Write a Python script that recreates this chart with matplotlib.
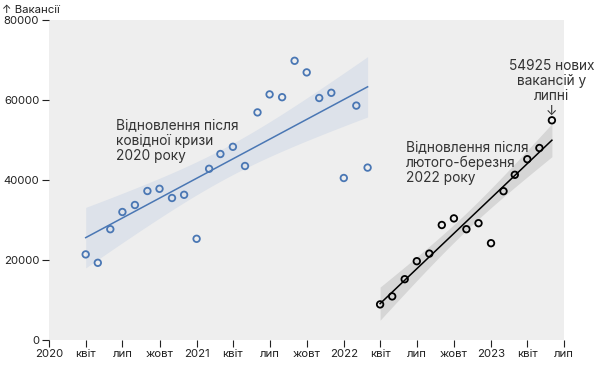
import numpy as np
import pandas as pd
import matplotlib
matplotlib.use("Agg")
import matplotlib.pyplot as plt
import matplotlib.dates as mdates

plt.rcParams['font.family'] = ['Inter', 'DejaVu Sans']

# Monthly vacancies, recovery after COVID crisis 2020 (Apr 2020 - Mar 2022)
covid_dates = pd.date_range("2020-04-01", "2022-03-01", freq="MS")
covid_values = [21400, 19300, 27700, 32000, 33750, 37250, 37800, 35500, 36300,
                25300, 42800, 46500, 48300, 43500, 56900, 61400, 60700, 69800,
                66900, 60500, 61800, 40500, 58600, 43100]

# Recovery after Feb-Mar 2022 (Apr 2022 - Jun 2023)
war_dates = pd.date_range("2022-04-01", "2023-06-01", freq="MS")
war_values = [8900, 10900, 15200, 19700, 21600, 28750, 30400, 27700, 29200,
              24200, 37200, 41300, 45200, 48000, 54925]

tick_dates = pd.date_range("2020-01-01", "2023-07-01", freq="QS")
month_names = {1: None, 4: "квіт", 7: "лип", 10: "жовт"}
tick_labels = [str(d.year) if d.month == 1 else month_names[d.month] for d in tick_dates]
y_ticks = [0, 20000, 40000, 60000, 80000]

BLUE = "#4a77b4"
BG = "#eeeeee"

fig = plt.figure(figsize=(6, 3.68), dpi=100)
ax = fig.add_axes([49/600, 28/368, (564-49)/600, 320/368])
ax.set_facecolor(BG)
for s in ax.spines.values():
    s.set_visible(False)


def fit_band(dates, values, color_line, color_band, lw):
    x = mdates.date2num(dates)
    y = np.asarray(values, float)
    n = len(x)
    b, a = np.polyfit(x, y, 1)
    xs = np.linspace(x.min(), x.max(), 100)
    yh = a + b * xs
    resid = y - (a + b * x)
    s = np.sqrt(np.sum(resid**2) / (n - 2))
    sxx = np.sum((x - x.mean())**2)
    se = s * np.sqrt(1/n + (xs - x.mean())**2 / sxx)
    t = 2.07
    ax.fill_between(xs, yh - t*se, yh + t*se, color=color_band, lw=0, zorder=1)
    ax.plot(xs, yh, color=color_line, lw=lw, zorder=2)


fit_band(covid_dates, covid_values, BLUE, "#dde2ea", 1.1)
fit_band(war_dates, war_values, "black", "#d6d6d6", 1.1)

ax.scatter(mdates.date2num(covid_dates), covid_values, s=22, facecolors="none",
           edgecolors=BLUE, linewidths=1.3, zorder=3)
ax.scatter(mdates.date2num(war_dates), war_values, s=22, facecolors="none",
           edgecolors="black", linewidths=1.3, zorder=3)

ax.set_xlim(mdates.date2num(pd.Timestamp("2020-01-01")), mdates.date2num(pd.Timestamp("2023-07-01")))
ax.set_ylim(0, 80000)
ax.set_xticks(mdates.date2num(tick_dates))
ax.set_xticklabels(tick_labels)
ax.set_yticks(y_ticks)
ax.set_yticklabels([str(v) for v in y_ticks])
ax.tick_params(axis="both", labelsize=8.2, colors="#222222", length=5, width=0.8, pad=2)
ax.tick_params(axis="x", pad=1.5)

fig.text(2/600, 1 - 10/368, "↑ Вакансії", fontsize=8.2, color="#222222", va="center", ha="left")

tc = "#333333"
ax.text(mdates.date2num(pd.Timestamp("2020-06-15")), 49800,
        "Відновлення після\nковідної кризи\n2020 року", fontsize=9.9, color=tc,
        ha="left", va="center", linespacing=1.12, zorder=4)
ax.text(mdates.date2num(pd.Timestamp("2022-06-04")), 44300,
        "Відновлення після\nлютого-березня\n2022 року", fontsize=9.9, color=tc,
        ha="left", va="center", linespacing=1.12, zorder=4)
last = mdates.date2num(war_dates[-1])
ax.text(last, 64700, "54925 нових\nвакансій у\nлипні",
        fontsize=9.9, color=tc, ha="center", va="center", linespacing=1.08,
        clip_on=False, zorder=4)
ax.text(last, 57300, "↓", fontsize=9.9, color=tc, ha="center", va="center", zorder=4)

fig.savefig("out.png", dpi=100)
